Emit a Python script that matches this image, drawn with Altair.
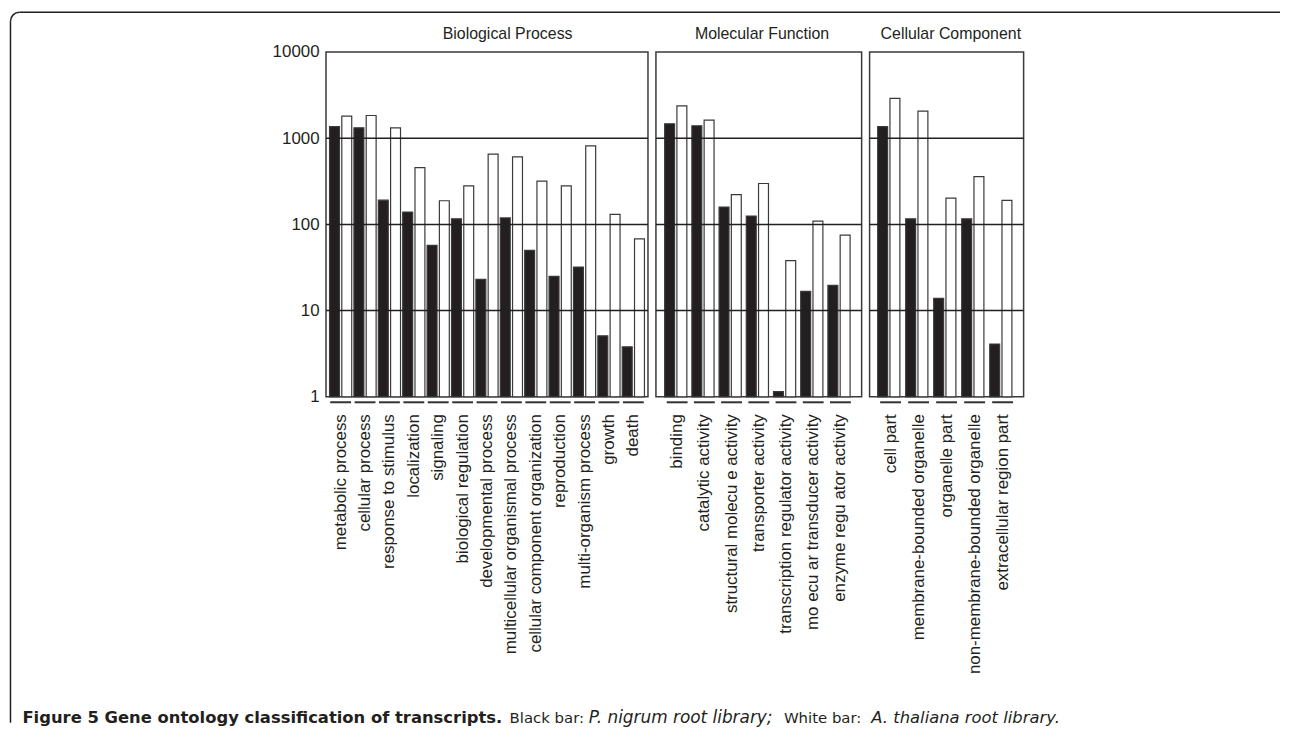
import altair as alt
import pandas as pd

# ---------------- data ----------------
bp_cats = ["metabolic process", "cellular process", "response to stimulus", "localization",
           "signaling", "biological regulation", "developmental process",
           "multicellular organismal process", "cellular component organization",
           "reproduction", "multi-organism process", "growth", "death"]
bp_black = [1360, 1320, 191, 139, 57, 116, 23, 119, 50, 25, 32, 5.1, 3.8]
bp_white = [1800, 1835, 1320, 455, 188, 280, 653, 608, 317, 280, 815, 131, 68]

mf_cats = ["binding", "catalytic activity", "structural molecu e activity", "transporter activity",
           "transcription regulator activity", "mo ecu ar transducer activity",
           "enzyme regu ator activity"]
mf_black = [1472, 1395, 159, 125, 1.15, 16.7, 19.6]
mf_white = [2370, 1622, 222, 298, 38, 109, 75]

cc_cats = ["cell part", "membrane-bounded organelle", "organelle part",
           "non-membrane-bounded organelle", "extracellular region part"]
cc_black = [1360, 116, 13.9, 116, 4.1]
cc_white = [2900, 2060, 202, 358, 190]

libraries = ["P. nigrum", "A. thaliana"]
grid_levels = [10, 100, 1000]
y_ticks = [1, 10, 100, 1000, 10000]

panel_titles = ["Biological Process", "Molecular Function", "Cellular Component"]
caption_runs = ["Figure 5 Gene ontology classification of transcripts.", "Black bar:",
                "P. nigrum root library;", "White bar:", "A. thaliana root library."]

# ---------------- style ----------------
H = 347
INK = "#231f20"
FONT = "Liberation Sans"
CAP_FONT = "DejaVu Sans"

one = alt.Chart(pd.DataFrame({"k": [0]}))


def title_mark(text, x):
    return one.mark_text(align="center", baseline="middle", font=FONT, fontSize=16,
                         color=INK).encode(x=alt.value(x), y=alt.value(-18),
                                           text=alt.value(text))


def panel(cats, black, white, width, x_pad_outer, off_pad_outer, show_y, extras=()):
    n = len(cats)
    df = pd.DataFrame({
        "category": cats * 2,
        "library": [libraries[0]] * n + [libraries[1]] * n,
        "count": black + white,
        "base": [1] * (2 * n),
    })
    yscale = alt.Scale(type="log", domain=[1, 10000], nice=False)
    if show_y:
        yaxis = alt.Axis(values=y_ticks, format="d", ticks=False, domain=False, grid=False,
                         labelFontSize=17, labelFont=FONT, labelColor=INK, labelPadding=7,
                         title=None)
    else:
        yaxis = None
    xaxis = alt.Axis(labelAngle=-90, ticks=False, domain=False, labelPadding=17,
                     labelFontSize=17, labelFont=FONT, labelColor=INK, labelLimit=400,
                     title=None)
    xenc = alt.X("category:N", sort=cats, axis=xaxis,
                 scale=alt.Scale(paddingInner=0, paddingOuter=x_pad_outer))

    bars = alt.Chart(df).mark_bar(stroke="#3a3a3a", strokeWidth=1.2).encode(
        x=xenc,
        xOffset=alt.XOffset("library:N", sort=libraries,
                            scale=alt.Scale(paddingInner=0.19, paddingOuter=off_pad_outer)),
        y=alt.Y("count:Q", scale=yscale, axis=yaxis),
        y2="base:Q",
        fill=alt.Fill("library:N", scale=alt.Scale(domain=libraries, range=[INK, "#ffffff"]),
                      legend=None),
    )
    grid = alt.Chart(pd.DataFrame({"level": grid_levels})).mark_rule(
        color=INK, strokeWidth=1.5
    ).encode(y=alt.Y("level:Q", scale=yscale, axis=yaxis))
    dashes = alt.Chart(pd.DataFrame({"category": cats})).mark_bar(
        width=21, color="#333333"
    ).encode(x=xenc, y=alt.value(H + 4.5), y2=alt.value(H + 6.5))

    return alt.layer(bars, grid, dashes, *extras).properties(width=width, height=H)


# --- figure frame and caption (decoration), placed relative to the first panel's plot area
FL, FT, FR, FB, R = -317.5, -40.0, 960.0, 675.0, 9.0
frame_top = one.mark_rule(color=INK, strokeWidth=1.5).encode(
    x=alt.value(FL + R), x2=alt.value(FR), y=alt.value(FT))
frame_left = one.mark_rule(color=INK, strokeWidth=1.5).encode(
    x=alt.value(FL), y=alt.value(FT + R), y2=alt.value(FB))
frame_corner = one.mark_arc(innerRadius=R - 0.75, outerRadius=R + 0.75, theta=4.7124,
                            theta2=6.2832, color=INK).encode(
    x=alt.value(FL + R), y=alt.value(FT + R))

CAP_Y = 675
cap_x = [-305.5, 184.75, 264.5, 460.75, 548.75]
cap_size = [16.5, 15, 17, 15, 16.5]
cap_w = ["bold", "normal", "normal", "normal", "normal"]
cap_s = ["normal", "normal", "italic", "normal", "italic"]
cap_layers = [
    one.mark_text(align="left", baseline="alphabetic", font=CAP_FONT, fontSize=fs,
                  fontWeight=w, fontStyle=s, color=INK).encode(
        x=alt.value(x), y=alt.value(CAP_Y), text=alt.value(t))
    for t, x, fs, w, s in zip(caption_runs, cap_x, cap_size, cap_w, cap_s)
]

bp = panel(bp_cats, bp_black, bp_white, 324, 0.1, 0.09, True,
           extras=(frame_top, frame_left, frame_corner, *cap_layers,
                   title_mark(panel_titles[0], 182.75)))
mf = panel(mf_cats, mf_black, mf_white, 207, 0.28, 0.23, False,
           extras=(title_mark(panel_titles[1], 106.75),))
cc = panel(cc_cats, cc_black, cc_white, 155, 0.25, 0.24, False,
           extras=(title_mark(panel_titles[2], 81.75),))

chart = alt.hconcat(bp, mf, cc, spacing=8, bounds="flush").properties(
    padding={"left": 1, "top": 0, "right": 0, "bottom": 0}
).configure(background="white").configure_view(stroke="#3a3a3a", strokeWidth=1.5)

chart.save("out.html", embed_options={"renderer": "svg", "actions": False})
